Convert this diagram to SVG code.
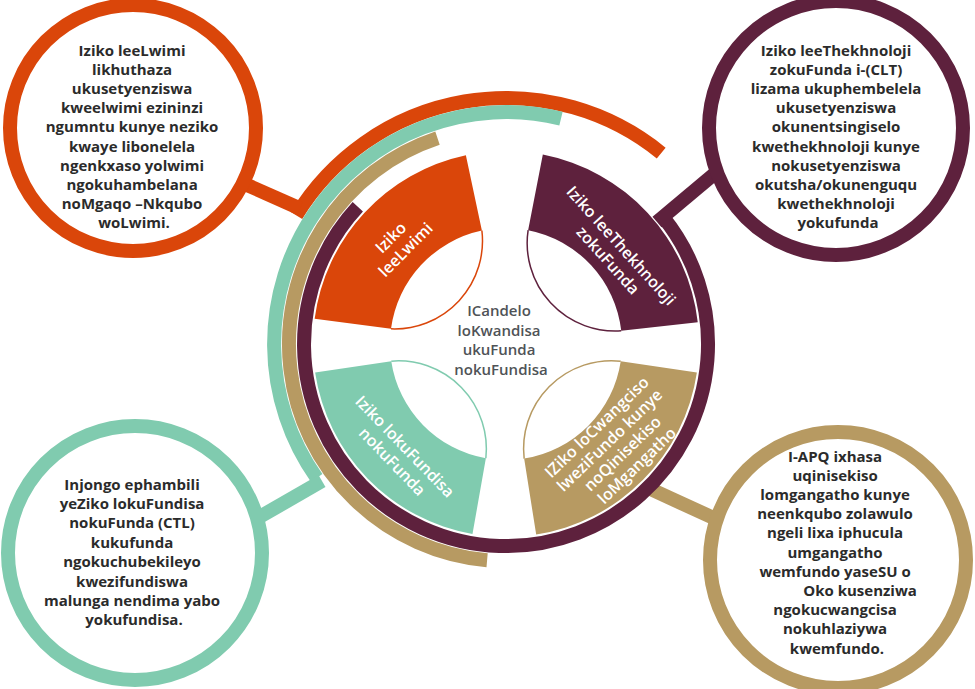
<svg xmlns="http://www.w3.org/2000/svg" width="975" height="689" viewBox="0 0 975 689">
  <style>
    .ring { fill: none; stroke-width: 14; stroke-linecap: butt; }
    .conn { fill: none; stroke-width: 14; stroke-linecap: butt; }
    .bubble { fill: #ffffff; stroke-width: 14; }
    .lens { fill: none; stroke-width: 1.5; }
    .ctext { font-family: "Open Sans", "Lato", sans-serif; font-weight: 700; font-size: 15px; fill: #2b2b2b; text-anchor: middle; }
    .qtext { font-family: "Open Sans", "Lato", sans-serif; font-weight: 600; font-size: 16px; fill: #ffffff; text-anchor: middle; }
    .mtext { font-family: "Open Sans", "Lato", sans-serif; font-weight: 600; font-size: 15px; fill: #4f5357; text-anchor: middle; }
    .orange { stroke: #DA460A; }
    .maroon { stroke: #5E213D; }
    .gold { stroke: #B79A62; }
    .teal { stroke: #80CBAF; }
  </style>
  <rect width="975" height="689" fill="#ffffff"/>

  <g id="connectors">
    <path class="ring orange" d="M 296.25 215.46 A 246 246 0 0 1 661.2 153.1"/>
    <line class="conn orange" x1="246" y1="184.5" x2="300" y2="208.5"/>
    <path class="ring teal" d="M 316.7 478 A 232 232 0 0 1 561 118.6"/>
    <line class="conn teal" x1="256" y1="519" x2="322" y2="481"/>
    <path class="ring gold" d="M 487.1 560.2 A 217 217 0 0 1 437.5 138.1"/>
    <line class="conn gold" x1="645" y1="486.5" x2="719" y2="520.5"/>
    <path class="ring maroon" d="M 663 216.9 A 202 202 0 1 1 357.8 206.8"/>
    <line class="conn maroon" x1="657" y1="222" x2="719" y2="170"/>
  </g>

  <g id="circle-language">
    <circle class="bubble orange" cx="133" cy="128" r="123"/>
    <text class="ctext">
      <tspan x="134" y="55.5">Iziko leeLwimi</tspan>
      <tspan x="134" y="74.7">likhuthaza</tspan>
      <tspan x="134" y="93.9">ukusetyenziswa</tspan>
      <tspan x="134" y="113.1">kweelwimi ezininzi</tspan>
      <tspan x="134" y="132.3">ngumntu kunye neziko</tspan>
      <tspan x="134" y="151.5">kwaye libonelela</tspan>
      <tspan x="134" y="170.7">ngenkxaso yolwimi</tspan>
      <tspan x="134" y="189.9">ngokuhambelana</tspan>
      <tspan x="134" y="209.1">noMgaqo –Nkqubo</tspan>
      <tspan x="134" y="228.3">woLwimi.</tspan>
    </text>
  </g>

  <g id="circle-technology">
    <circle class="bubble maroon" cx="836" cy="128" r="127"/>
    <text class="ctext">
      <tspan x="838" y="55.5">Iziko leeThekhnoloji</tspan>
      <tspan x="838" y="74.7">zokuFunda i-(CLT)</tspan>
      <tspan x="838" y="93.9">lizama ukuphembelela</tspan>
      <tspan x="838" y="113.1">ukusetyenziswa</tspan>
      <tspan x="838" y="132.3">okunentsingiselo</tspan>
      <tspan x="838" y="151.5">kwethekhnoloji kunye</tspan>
      <tspan x="838" y="170.7">nokusetyenziswa</tspan>
      <tspan x="838" y="189.9">okutsha/okunenguqu</tspan>
      <tspan x="838" y="209.1">kwethekhnoloji</tspan>
      <tspan x="838" y="228.3">yokufunda</tspan>
    </text>
  </g>

  <g id="circle-teaching">
    <circle class="bubble teal" cx="135" cy="553" r="127"/>
    <text class="ctext">
      <tspan x="134" y="489.5">Injongo ephambili</tspan>
      <tspan x="134" y="508.9">yeZiko lokuFundisa</tspan>
      <tspan x="134" y="528.3">nokuFunda  (CTL)</tspan>
      <tspan x="134" y="547.7">kukufunda</tspan>
      <tspan x="134" y="567.1">ngokuchubekileyo</tspan>
      <tspan x="134" y="586.5">kwezifundiswa</tspan>
      <tspan x="134" y="605.9">malunga nendima yabo</tspan>
      <tspan x="134" y="625.3">yokufundisa.</tspan>
    </text>
  </g>

  <g id="circle-quality">
    <circle class="bubble gold" cx="838" cy="560" r="128"/>
    <text class="ctext">
      <tspan x="837" y="461.5">I-APQ ixhasa</tspan>
      <tspan x="837" y="480.7">uqinisekiso</tspan>
      <tspan x="837" y="499.9">lomgangatho kunye</tspan>
      <tspan x="837" y="519.1">neenkqubo zolawulo</tspan>
      <tspan x="837" y="538.3">ngeli lixa iphucula</tspan>
      <tspan x="837" y="557.5">umgangatho</tspan>
      <tspan x="837" y="576.7">wemfundo yaseSU o</tspan>
      <tspan x="862" y="595.9">Oko kusenziwa</tspan>
      <tspan x="837" y="615.1">ngokucwangcisa</tspan>
      <tspan x="837" y="634.3">nokuhlaziywa</tspan>
      <tspan x="837" y="653.5">kwemfundo.</tspan>
    </text>
  </g>

  <g id="quadrant-language">
    <path fill="#DA460A" d="M 314.65 318.81 A 193 193 0 0 1 465.87 155.22 L 481.88 230.53 A 116 116 0 0 0 391 328.86 Z"/>
    <path class="lens orange" d="M 481.88 230.53 A 88 88 0 0 1 391 328.86"/>
    <text class="qtext" transform="translate(399 243) rotate(-45)">
      <tspan x="0" y="-4">Iziko</tspan>
      <tspan x="0" y="15">leeLwimi</tspan>
    </text>
  </g>

  <g id="quadrant-technology">
    <path fill="#5E213D" d="M 542.83 154.55 A 193 193 0 0 1 697.76 322.15 L 621.25 330.87 A 116 116 0 0 0 528.13 230.13 Z"/>
    <path class="lens maroon" d="M 528.13 230.13 A 88 88 0 0 0 621.25 330.87"/>
    <text class="qtext" transform="translate(615 254) rotate(48)">
      <tspan x="0" y="-4.5">Iziko leeThekhnoloji</tspan>
      <tspan x="0" y="15">zokuFunda</tspan>
    </text>
  </g>

  <g id="quadrant-teaching">
    <path fill="#80CBAF" d="M 472.49 534.07 A 193 193 0 0 1 315.12 372.53 L 391.27 361.15 A 116 116 0 0 0 485.86 458.24 Z"/>
    <path class="lens teal" d="M 391.27 361.15 A 88 88 0 0 1 485.86 458.24"/>
    <text class="qtext" transform="translate(399 455) rotate(46)">
      <tspan x="0" y="-4.5">Iziko lokuFundisa</tspan>
      <tspan x="0" y="15">nokuFunda</tspan>
    </text>
  </g>

  <g id="quadrant-quality">
    <path fill="#B79A62" d="M 696.88 372.53 A 193 193 0 0 1 536.19 534.62 L 524.15 458.57 A 116 116 0 0 0 620.73 361.15 Z"/>
    <path class="lens gold" d="M 620.73 361.15 A 88 88 0 0 0 524.15 458.57"/>
    <text class="qtext" transform="translate(618 446) rotate(-44)">
      <tspan x="0" y="-22.75">IZiko loCwangciso</tspan>
      <tspan x="0" y="-4.25">lweziFundo kunye</tspan>
      <tspan x="0" y="14.25">noQinisekiso</tspan>
      <tspan x="0" y="32.75">loMgangatho</tspan>
    </text>
  </g>

  <g id="center">
    <text class="mtext">
      <tspan x="501" y="316">ICandelo</tspan>
      <tspan x="501" y="335.5">loKwandisa</tspan>
      <tspan x="501" y="355">ukuFunda</tspan>
      <tspan x="501" y="374.5">nokuFundisa</tspan>
    </text>
  </g>
</svg>
